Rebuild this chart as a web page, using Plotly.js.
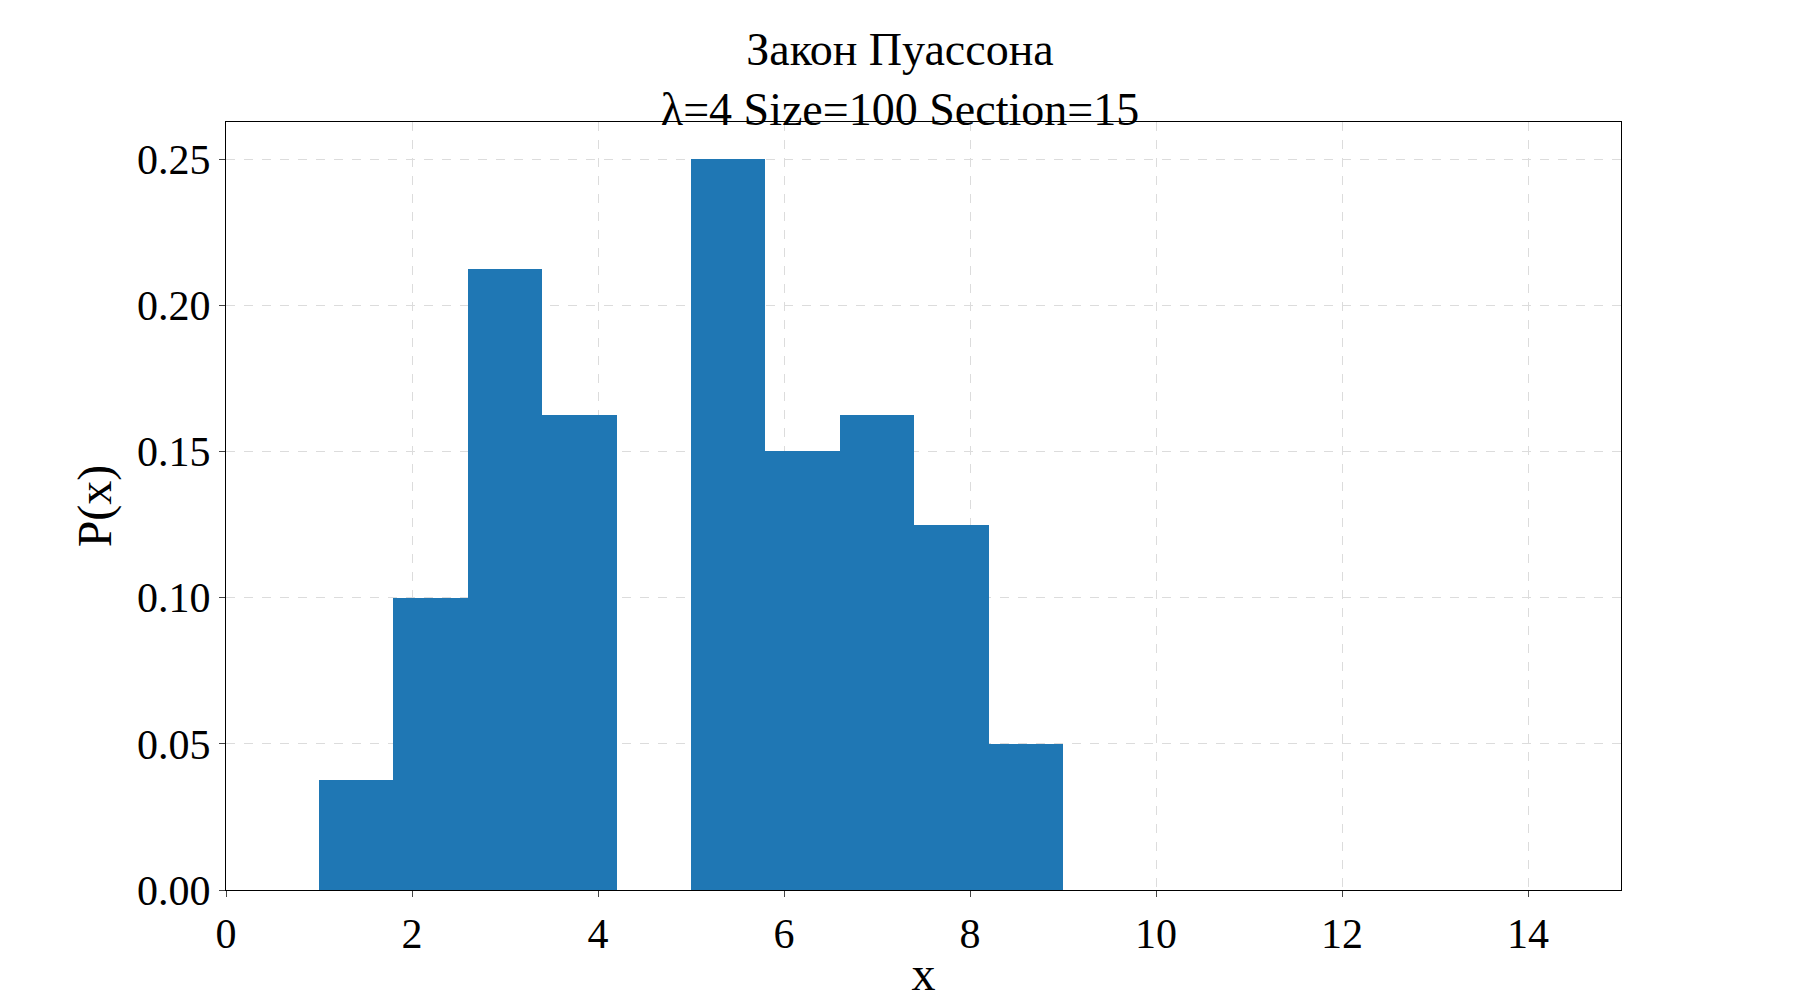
<!DOCTYPE html>
<html><head><meta charset="utf-8">
<script src="https://cdn.plot.ly/plotly-3.0.1.min.js"></script>
<style>body{margin:0}</style></head><body>
<div id="c" style="width:1800px;height:1000px"></div>
<script>
const binCenters = [1.4, 2.2, 3.0, 3.8, 4.6, 5.4, 6.2, 7.0, 7.8, 8.6];
const density = [0.0375, 0.1, 0.2125, 0.1625, 0, 0.25, 0.15, 0.1625, 0.125, 0.05];
const binWidth = 0.8;
const F = 'Liberation Serif, Times New Roman, serif';
Plotly.newPlot('c', [{
  type: 'bar', x: binCenters, y: density, width: binWidth,
  marker: {color: '#1f77b4', line: {width: 0}}
}], {
  width: 1800, height: 1000,
  margin: {l: 226, r: 179, t: 122, b: 110},
  paper_bgcolor: '#fff', plot_bgcolor: '#fff',
  showlegend: false, bargap: 0,
  title: {text: 'Закон Пуассона<br>λ=4 Size=100 Section=15', x: 0.5, xanchor: 'center', y: 0.935, yanchor: 'middle',
    font: {family: F, size: 46, color: '#000'}},
  xaxis: {range: [0, 15], tickvals: [0,2,4,6,8,10,12,14], ticks: 'outside', ticklen: 6,
    showgrid: true, gridcolor: '#dcdcdc', griddash: 'dash', zeroline: false,
    showline: true, linecolor: '#000', mirror: true, linewidth: 1.3,
    tickfont: {family: F, size: 42, color: '#000'},
    title: {text: 'x', font: {family: F, size: 48, color: '#000'}, standoff: 8}},
  yaxis: {range: [0, 0.2627], tickvals: [0,0.05,0.1,0.15,0.2,0.25], tickformat: '.2f', ticks: 'outside', ticklen: 6,
    showgrid: true, gridcolor: '#dcdcdc', griddash: 'dash', zeroline: false,
    showline: true, linecolor: '#000', mirror: true, linewidth: 1.3,
    tickfont: {family: F, size: 42, color: '#000'},
    title: {text: 'P(x)', font: {family: F, size: 48, color: '#000'}, standoff: 10}}
}, {displayModeBar: false});
</script></body></html>
